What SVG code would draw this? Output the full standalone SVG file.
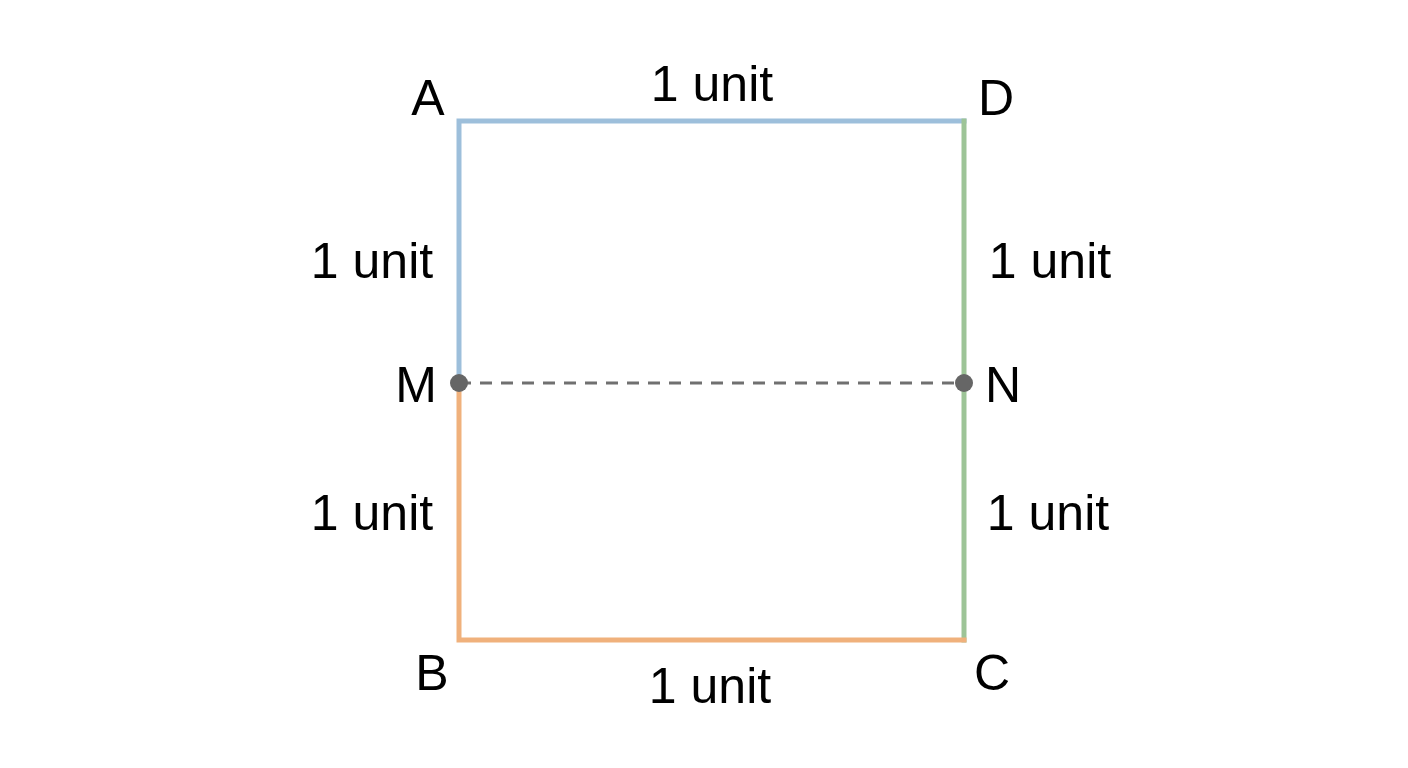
<svg xmlns="http://www.w3.org/2000/svg" width="1408" height="768" viewBox="0 0 1408 768">
<style>
text{font-family:"Liberation Sans",Arial,sans-serif;font-size:50px;fill:#000;text-anchor:middle}
.e{fill:none;stroke-width:5;stroke-linecap:square;stroke-linejoin:miter}
</style>
<rect width="1408" height="768" fill="#fff"/>
<g id="connectors">
<polyline class="e" points="459,383 459,121 964,121" stroke="#9dbfdb"/>
<polyline class="e" points="964,121 964,640" stroke="#9dc497"/>
<polyline class="e" points="459,383 459,640 964,640" stroke="#f0b17c"/>
<line x1="459" y1="383" x2="964" y2="383" stroke="#707070" stroke-width="3" stroke-dasharray="12,9"/>
</g>
<g id="M"><circle cx="459" cy="383" r="9" fill="#666"/><text x="416" y="402">M</text></g>
<g id="N"><circle cx="964" cy="383" r="9" fill="#666"/><text x="1003" y="402">N</text></g>
<g id="A"><text x="428" y="115">A</text></g>
<g id="D"><text x="996" y="115">D</text></g>
<g id="B"><text x="432" y="690">B</text></g>
<g id="C"><text x="992" y="690">C</text></g>
<g id="labels">
<text x="712" y="101">1 unit</text>
<text x="372" y="278">1 unit</text>
<text x="1050" y="278">1 unit</text>
<text x="372" y="530">1 unit</text>
<text x="1048" y="530">1 unit</text>
<text x="710" y="703">1 unit</text>
</g>
</svg>
